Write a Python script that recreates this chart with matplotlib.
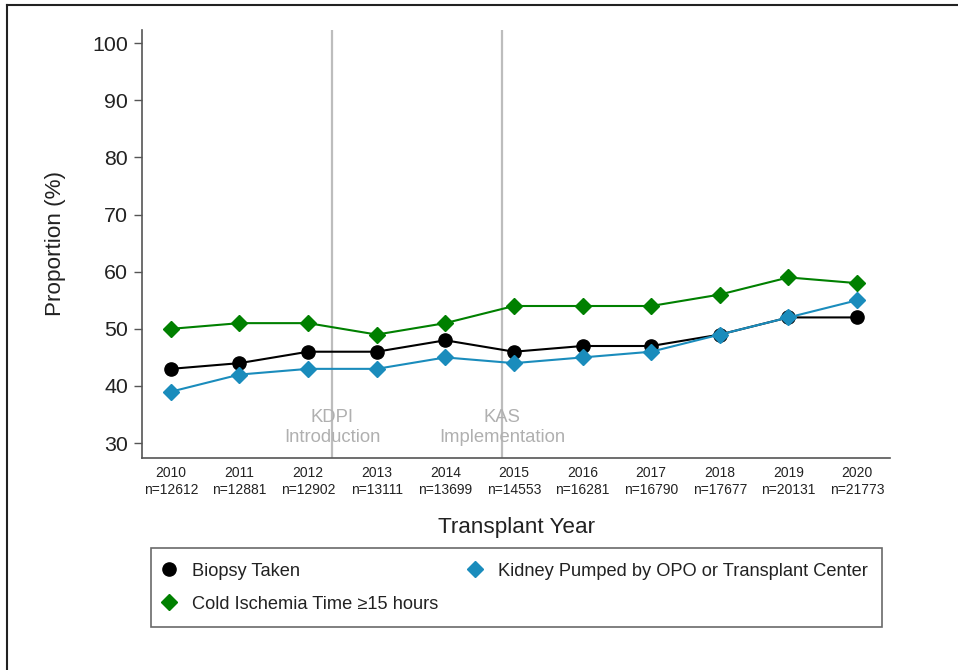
import matplotlib
matplotlib.use("Agg")
import matplotlib.pyplot as plt
from matplotlib.lines import Line2D

plt.rcParams['font.family'] = ['Liberation Sans', 'DejaVu Sans']

years = [2010, 2011, 2012, 2013, 2014, 2015, 2016, 2017, 2018, 2019, 2020]
n_counts = [12612, 12881, 12902, 13111, 13699, 14553, 16281, 16790, 17677, 20131, 21773]
biopsy = [43, 44, 46, 46, 48, 46, 47, 47, 49, 52, 52]
pumped = [39, 42, 43, 43, 45, 44, 45, 46, 49, 52, 55]
cold = [50, 51, 51, 49, 51, 54, 54, 54, 56, 59, 58]
yticks = [30, 40, 50, 60, 70, 80, 90, 100]
events = [(2012.35, "KDPI\nIntroduction"), (2014.83, "KAS\nImplementation")]

GREEN = "#008000"
BLUE = "#1a8cbc"
W, H = 958, 670
fig = plt.figure(figsize=(W/100, H/100), dpi=100)
ax = fig.add_axes([142/W, 1-458/H, (890-142)/W, (458-30)/H])

for xv, lab in events:
    ax.axvline(xv, color="#bdbdbd", lw=1.6, zorder=1)
    ax.text(xv, 32.7, lab, ha="center", va="center", color="#b0b0b0",
            fontsize=13.3, linespacing=1.2, zorder=1)

ax.plot(years, cold, color=GREEN, lw=1.5, marker="D", ms=8, zorder=3)
ax.plot(years, biopsy, color="black", lw=1.5, marker="o", ms=9.5, zorder=4)
ax.plot(years, pumped, color=BLUE, lw=1.5, marker="D", ms=8, zorder=5)

ax.set_xlim(2009.58, 2020.48)
ax.set_ylim(27.4, 102.3)
ax.set_yticks(yticks)
ax.set_yticklabels([str(v) for v in yticks], fontsize=15.4, color="#222222")
ax.set_xticks(years)
ax.set_xticklabels([f"{y}\nn={n}" for y, n in zip(years, n_counts)],
                   fontsize=10, linespacing=1.2, color="#222222")
ax.tick_params(axis="x", length=0, pad=6)
ax.tick_params(axis="y", length=6, width=1, color="#555555", pad=4)
for s in ["top", "right"]:
    ax.spines[s].set_visible(False)
for s in ["left", "bottom"]:
    ax.spines[s].set_color("#555555")
    ax.spines[s].set_linewidth(1.2)

ax.set_ylabel("Proportion (%)", fontsize=16.2, color="#222222", labelpad=19)
ax.set_xlabel("Transplant Year", fontsize=16.2, color="#222222", labelpad=15)

handles = [
    Line2D([], [], color="black", marker="o", ls="none", ms=9.5),
    Line2D([], [], color=GREEN, marker="D", ls="none", ms=8),
    Line2D([], [], color=BLUE, marker="D", ls="none", ms=8),
]
labels = ["Biopsy Taken", "Cold Ischemia Time \u226515 hours",
          "Kidney Pumped by OPO or Transplant Center"]
leg = fig.legend(handles, labels, ncol=2, loc="upper left",
                 bbox_to_anchor=(151/W, 1-548/H),
                 fontsize=13.15, frameon=True, fancybox=False,
                 edgecolor="#444444", borderaxespad=0, handlelength=0.4,
                 handletextpad=1.05, labelspacing=0.88, borderpad=0.8,
                 columnspacing=1.8)
leg.get_frame().set_linewidth(1.2)
for t in leg.get_texts():
    t.set_color("#222222")

# outer frame lines (top and left)
fig.add_artist(Line2D([7/W, 1], [1-5/H, 1-5/H], color="#222222", lw=1.5,
                      transform=fig.transFigure))
fig.add_artist(Line2D([7/W, 7/W], [0, 1-5/H], color="#222222", lw=1.5,
                      transform=fig.transFigure))

fig.savefig("out.png", dpi=100)
